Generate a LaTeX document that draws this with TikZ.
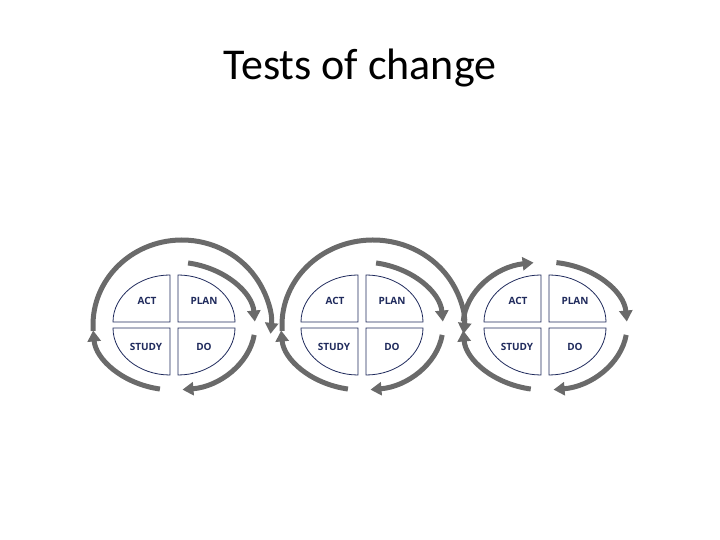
\documentclass[tikz,border=0pt]{standalone}
\usepackage{fontspec}
\setmainfont{Carlito}
\newfontfamily\lab{Open Sans}
\usetikzlibrary{arrows.meta}
\definecolor{navy}{HTML}{1F2A5C}
\definecolor{arr}{HTML}{6A6A6A}
\tikzset{
  quad/.style={draw=navy, line width=0.8pt, fill=white},
  qlabel/.style={font=\lab\bfseries\fontsize{10}{11}\selectfont, text=navy},
  cyc/.style={draw=arr, line width=5pt, -{Triangle[length=11pt,width=13pt]}},
}
\newcommand{\pdsa}[2]{%
  \begin{scope}[shift={(#1,215)}]
    \draw[quad] (-4,3) -- (-4,50) arc[start angle=90,end angle=180,x radius=57,y radius=47] -- cycle;
    \draw[quad] (4,3) -- (4,50) arc[start angle=90,end angle=0,x radius=57,y radius=47] -- cycle;
    \draw[quad] (-4,-3) -- (-4,-50) arc[start angle=270,end angle=180,x radius=57,y radius=47] -- cycle;
    \draw[quad] (4,-3) -- (4,-50) arc[start angle=270,end angle=360,x radius=57,y radius=47] -- cycle;
    \node[qlabel] (act#2) at (-27,24) {ACT};
    \node[qlabel] (plan#2) at (30,24) {PLAN};
    \node[qlabel] (study#2) at (-28,-22) {STUDY};
    \node[qlabel] (do#2) at (30,-22) {DO};
  \end{scope}}
\begin{document}
\begin{tikzpicture}[x=1pt,y=1pt]
\useasboundingbox (0,0) rectangle (720,540);
\node[font=\fontsize{44}{48}\selectfont] (title) at (360,472) {Tests of change};
\pdsa{174}{1}
\pdsa{362}{2}
\pdsa{545}{3}
% cycle 1
\draw[cyc] (174,214) ++(80:81 and 64) arc[start angle=80,end angle=4,x radius=81,y radius=64];
\draw[cyc] (174,214) ++(-8:81 and 64) arc[start angle=-8,end angle=-84,x radius=81,y radius=64];
\draw[cyc] (174,214) ++(-100:81 and 64) arc[start angle=-100,end angle=-176,x radius=81,y radius=64];
\draw[cyc] (182,215) ++(184:89 and 85) arc[start angle=184,end angle=-6,x radius=89,y radius=85];
% cycle 2
\draw[cyc] (362,214) ++(80:81 and 64) arc[start angle=80,end angle=4,x radius=81,y radius=64];
\draw[cyc] (362,214) ++(-8:81 and 64) arc[start angle=-8,end angle=-84,x radius=81,y radius=64];
\draw[cyc] (362,214) ++(-100:81 and 64) arc[start angle=-100,end angle=-176,x radius=81,y radius=64];
\draw[cyc] (373,215) ++(184:91 and 85) arc[start angle=184,end angle=-6,x radius=91,y radius=85];
% cycle 3
\draw[cyc] (545,214) ++(176:82 and 64) arc[start angle=176,end angle=98,x radius=82,y radius=64];
\draw[cyc] (545,214) ++(82:82 and 64) arc[start angle=82,end angle=4,x radius=82,y radius=64];
\draw[cyc] (545,214) ++(-8:82 and 64) arc[start angle=-8,end angle=-84,x radius=82,y radius=64];
\draw[cyc] (545,214) ++(-100:82 and 64) arc[start angle=-100,end angle=-176,x radius=82,y radius=64];
\end{tikzpicture}
\end{document}
